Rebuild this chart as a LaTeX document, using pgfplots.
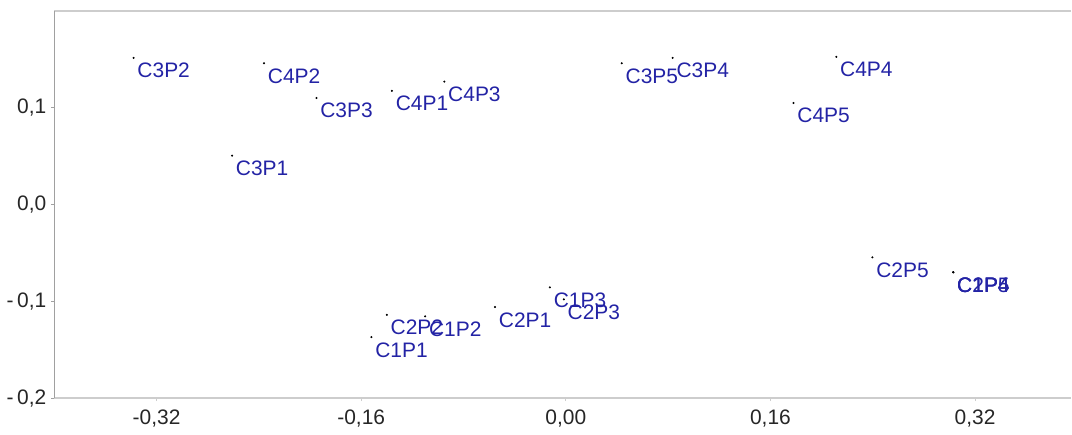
\documentclass[border=0pt]{standalone}
\usepackage{pgfplots}
\pgfplotsset{compat=1.18}
\usepackage{pgfplotstable}
\usepackage{fontspec}
\setmainfont{Liberation Sans}
\definecolor{lblue}{RGB}{35,35,165}
\definecolor{spinegray}{RGB}{160,160,160}
\definecolor{framegray}{RGB}{205,205,205}
\pgfplotstableread{
name x y
C3P2 -0.338 0.1515
C4P2 -0.236 0.146
C3P3 -0.195 0.110
C3P1 -0.261 0.0505
C4P1 -0.136 0.1175
C4P3 -0.095 0.127
C3P5 0.0437 0.146
C3P4 0.0835 0.1515
C4P4 0.2115 0.1526
C4P5 0.178 0.105
C1P1 -0.152 -0.137
C2P2 -0.140 -0.114
C1P2 -0.110 -0.1155
C2P1 -0.0554 -0.106
C1P3 -0.0125 -0.0856
C2P3 -0.0016 -0.098
C2P5 0.2397 -0.0546
C1P4 0.303 -0.070
C2P4 0.303 -0.070
C1P5 0.303 -0.070
}\points
\begin{document}
\begin{tikzpicture}
\begin{axis}[
  scale only axis,
  width=509.5pt, height=194pt,
  xmin=-0.4, xmax=0.395, ymin=-0.2, ymax=0.2,
  clip=false,
  axis line style={draw=none},
  xtick={-0.32,-0.16,0,0.16,0.32},
  xticklabels={{-0,32},{-0,16},{0,00},{0,16},{0,32}},
  ytick={-0.2,-0.1,0,0.1},
  yticklabels={{-\,0,2},{-\,0,1},{0,0},{0,1}},
  tick align=outside,
  major tick length=1.5pt,
  xtick style={draw=framegray, line width=0.5pt},
  ytick style={draw=spinegray, line width=0.5pt},
  x tick label style={font=\fontsize{10.5}{12}\selectfont, text=black!85, yshift=-1pt},
  y tick label style={font=\fontsize{10.5}{12}\selectfont, text=black!85, xshift=1pt},
  xtick pos=bottom, ytick pos=left,
  every axis plot/.append style={line width=0.3pt},
]
\draw[framegray, line width=1pt] (rel axis cs:0,1) -- (rel axis cs:1,1);
\draw[framegray, line width=1pt] (rel axis cs:0,0) -- (rel axis cs:1,0);
\draw[spinegray, line width=0.6pt] (rel axis cs:0,0) -- (rel axis cs:0,1);
\addplot[only marks, mark=*, mark size=0.35pt, black,
  point meta=explicit symbolic,
  nodes near coords,
  every node near coord/.style={anchor=north west, inner sep=0pt, xshift=1.8pt, yshift=-2.5pt, text=lblue, font=\fontsize{10.5}{12}\selectfont},
] table[x=x, y=y, meta=name] {\points};
\end{axis}
\useasboundingbox ([xshift=-26.5pt,yshift=-13.5pt]current axis.south west) rectangle ([yshift=5.5pt]current axis.north east);
\end{tikzpicture}
\end{document}
